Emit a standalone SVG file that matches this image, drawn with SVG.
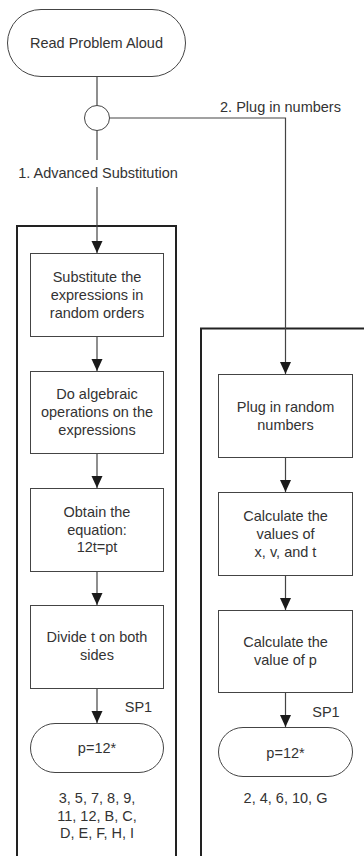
<svg xmlns="http://www.w3.org/2000/svg" width="364" height="856" viewBox="0 0 364 856">
<defs>
<marker id="ah" markerUnits="userSpaceOnUse" markerWidth="12" markerHeight="14" refX="12" refY="5.5" orient="auto">
<path d="M0,0 L12,5.5 L0,11 Z" fill="#1a1a1a"/>
</marker>
<style>
.t{font-family:"Liberation Sans",Arial,sans-serif;font-size:14.5px;fill:#333;text-anchor:middle}
.n{fill:#fff;stroke:#444;stroke-width:1}
.c{fill:none;stroke:#444;stroke-width:1.2}
.a{fill:none;stroke:#444;stroke-width:1.2;marker-end:url(#ah)}
.g{fill:none;stroke:#222;stroke-width:2}
</style>
</defs>
<rect width="364" height="856" fill="#fff"/>
<g id="groups">
<path class="g" d="M17,870 V226 H176 V870"/>
<path class="g" d="M201,870 V328.5 H370"/>
</g>
<g id="connectors">
<line class="c" x1="97" y1="77" x2="97" y2="105.5"/>
<line class="c" x1="97" y1="130.5" x2="97" y2="160"/>
<line class="a" x1="97" y1="187" x2="97" y2="253"/>
<polyline class="a" points="109.5,118 285.5,118 285.5,374"/>
<line class="a" x1="97" y1="337" x2="97" y2="371"/>
<line class="a" x1="97" y1="454" x2="97" y2="488"/>
<line class="a" x1="97" y1="572" x2="97" y2="605"/>
<line class="a" x1="97" y1="689" x2="97" y2="723"/>
<line class="a" x1="285.5" y1="458" x2="285.5" y2="492"/>
<line class="a" x1="285.5" y1="576" x2="285.5" y2="610"/>
<line class="a" x1="285.5" y1="693" x2="285.5" y2="727"/>
<text class="t" x="280.5" y="112">2. Plug in numbers</text>
<text class="t" x="98" y="178">1. Advanced Substitution</text>
<text class="t" x="138.5" y="712">SP1</text>
<text class="t" x="326" y="717">SP1</text>
</g>
<g id="start">
<rect class="n" x="7.5" y="9.5" width="178" height="67" rx="33.5"/>
<text class="t" x="96.5" y="48">Read Problem Aloud</text>
</g>
<g id="decision">
<circle class="n" cx="97" cy="118" r="12.5"/>
</g>
<g id="l1">
<rect class="n" x="30.5" y="253.5" width="133" height="83"/>
<text class="t" x="97" y="282">Substitute the</text>
<text class="t" x="97" y="300">expressions in</text>
<text class="t" x="97" y="318">random orders</text>
</g>
<g id="l2">
<rect class="n" x="30.5" y="371.5" width="133" height="82"/>
<text class="t" x="97" y="399">Do algebraic</text>
<text class="t" x="97" y="417">operations on the</text>
<text class="t" x="97" y="435">expressions</text>
</g>
<g id="l3">
<rect class="n" x="30.5" y="488.5" width="133" height="83"/>
<text class="t" x="97" y="517">Obtain the</text>
<text class="t" x="97" y="535">equation:</text>
<text class="t" x="97" y="552">12t=pt</text>
</g>
<g id="l4">
<rect class="n" x="30.5" y="605.5" width="133" height="83"/>
<text class="t" x="97" y="642">Divide t on both</text>
<text class="t" x="97" y="660">sides</text>
</g>
<g id="l5">
<rect class="n" x="30.5" y="723.5" width="133" height="49" rx="24.5"/>
<text class="t" x="97" y="753">p=12*</text>
</g>
<g id="l6">
<text class="t" x="97" y="803">3, 5, 7, 8, 9,</text>
<text class="t" x="97" y="821">11, 12, B, C,</text>
<text class="t" x="97" y="838">D, E, F, H, I</text>
</g>
<g id="r1">
<rect class="n" x="218.5" y="374.5" width="134" height="83"/>
<text class="t" x="285.5" y="412">Plug in random</text>
<text class="t" x="285.5" y="430">numbers</text>
</g>
<g id="r2">
<rect class="n" x="218.5" y="492.5" width="134" height="83"/>
<text class="t" x="285.5" y="521">Calculate the</text>
<text class="t" x="285.5" y="539">values of</text>
<text class="t" x="285.5" y="557">x, v, and t</text>
</g>
<g id="r3">
<rect class="n" x="218.5" y="610.5" width="134" height="82"/>
<text class="t" x="285.5" y="647">Calculate the</text>
<text class="t" x="285.5" y="665">value of p</text>
</g>
<g id="r4">
<rect class="n" x="218.5" y="727.5" width="134" height="49" rx="24.5"/>
<text class="t" x="285.5" y="758">p=12*</text>
</g>
<g id="r5">
<text class="t" x="285.5" y="803">2, 4, 6, 10, G</text>
</g>
</svg>
